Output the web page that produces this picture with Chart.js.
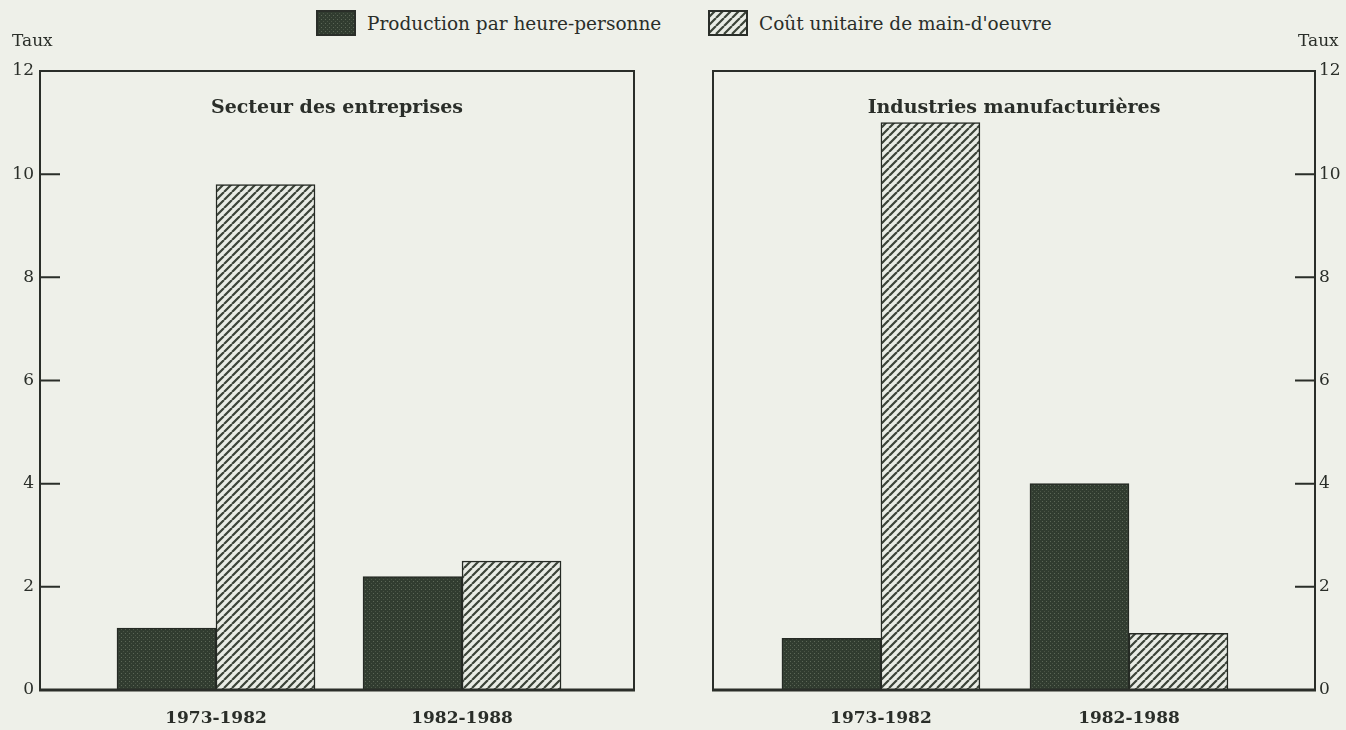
<!DOCTYPE html>
<html>
<head>
<meta charset="utf-8">
<script src="https://cdn.jsdelivr.net/npm/chart.js@4.4.0/dist/chart.umd.min.js"></script>
<style>
  html, body { margin: 0; padding: 0; width: 1346px; height: 730px; overflow: hidden; background: #eef0e9; font-family: "DejaVu Serif", serif; color: #2a2e29; }
  #c1 { position: absolute; left: 0; top: 0; }
  #c2 { position: absolute; left: 673px; top: 0; }
  .leg { position: absolute; top: 10px; height: 26px; display: flex; align-items: center; font-size: 18.5px; white-space: nowrap; }
  .sw { display: block; width: 40px; height: 26px; margin-right: 11px; }
</style>
</head>
<body>
<div class="leg" style="left:316px"><canvas class="sw" id="sw1" width="40" height="26"></canvas><span id="lt1"></span></div>
<div class="leg" style="left:708px"><canvas class="sw" id="sw2" width="40" height="26"></canvas><span id="lt2"></span></div>
<canvas id="c1" width="673" height="730"></canvas>
<canvas id="c2" width="673" height="730"></canvas>
<script>
// ---- Data ----
const categories = ['1973-1982', '1982-1988'];
const seriesNames = ['Production par heure-personne', "Coût unitaire de main-d'oeuvre"];
const panelTitles = ['Secteur des entreprises', 'Industries manufacturières'];
const entreprisesProduction = [1.2, 2.2];
const entreprisesCout = [9.8, 2.5];
const manufacturieresProduction = [1.0, 4.0];
const manufacturieresCout = [11.0, 1.1];
const yTicks = [0, 2, 4, 6, 8, 10, 12];
const axisTitle = 'Taux';

// ---- Styles ----
const FONT = '"DejaVu Serif", serif';
const INK = '#2a2e29';

function dotPattern() {
  const c = document.createElement('canvas'); c.width = 4; c.height = 4;
  const g = c.getContext('2d');
  g.fillStyle = '#313c30'; g.fillRect(0, 0, 4, 4);
  g.fillStyle = '#5c6757'; g.fillRect(1, 1, 1, 1);
  g.fillStyle = '#4a5446'; g.fillRect(3, 3, 1, 1);
  return g.createPattern(c, 'repeat');
}
function hatchPattern() {
  const s = 8;
  const c = document.createElement('canvas'); c.width = s; c.height = s;
  const g = c.getContext('2d');
  g.fillStyle = '#e9ece5'; g.fillRect(0, 0, s, s);
  g.strokeStyle = '#3b4338'; g.lineWidth = 2.2;
  g.beginPath();
  for (let k = -1; k <= 1; k++) { g.moveTo(k * s, s); g.lineTo(k * s + s, 0); }
  g.stroke();
  return g.createPattern(c, 'repeat');
}
const fills = [dotPattern(), hatchPattern()];

// legend (HTML)
['sw1', 'sw2'].forEach((id, i) => {
  const cv = document.getElementById(id), g = cv.getContext('2d');
  g.fillStyle = fills[i]; g.fillRect(0, 0, 40, 26);
  g.strokeStyle = INK; g.lineWidth = 2; g.strokeRect(1, 1, 38, 24);
});
document.getElementById('lt1').textContent = seriesNames[0];
document.getElementById('lt2').textContent = seriesNames[1];

const panelDecor = {
  id: 'panelDecor',
  afterDraw(chart, args, opts) {
    const { ctx, chartArea: a } = chart;
    const ys = chart.scales.y;
    ctx.save();
    ctx.strokeStyle = INK;
    ctx.lineWidth = 2;
    ctx.strokeRect(a.left, a.top, a.right - a.left, a.bottom - a.top);
    ctx.lineWidth = 3;
    ctx.beginPath(); ctx.moveTo(a.left - 1, a.bottom); ctx.lineTo(a.right + 1, a.bottom); ctx.stroke();
    ctx.lineWidth = 2;
    ctx.beginPath();
    yTicks.slice(1, -1).forEach(v => {
      const y = ys.getPixelForValue(v);
      if (opts.side === 'left') { ctx.moveTo(a.left, y); ctx.lineTo(a.left + 20, y); }
      else { ctx.moveTo(a.right - 20, y); ctx.lineTo(a.right, y); }
    });
    ctx.stroke();
    ctx.fillStyle = INK;
    ctx.font = 'bold 19px ' + FONT;
    ctx.textAlign = 'center'; ctx.textBaseline = 'middle';
    ctx.fillText(opts.title, (a.left + a.right) / 2, a.top + 37);
    ctx.font = '17px ' + FONT;
    ctx.textAlign = 'left';
    if (opts.side === 'left') { ctx.fillText(axisTitle, 12, 42); }
    else { ctx.fillText(axisTitle, a.right - 17, 42); }
    ctx.restore();
  }
};

function makeChart(id, title, prod, cout, side, xMin, xMax, pad) {
  return new Chart(document.getElementById(id), {
    type: 'bar',
    data: {
      datasets: [
        { label: seriesNames[0], data: prod.map((v, i) => ({ x: i, y: v })), backgroundColor: fills[0], borderColor: '#252a24', borderWidth: 1.5 },
        { label: seriesNames[1], data: cout.map((v, i) => ({ x: i, y: v })), backgroundColor: fills[1], borderColor: '#252a24', borderWidth: 1.5 }
      ]
    },
    options: {
      responsive: false,
      animation: false,
      devicePixelRatio: 1,
      layout: { padding: pad },
      datasets: { bar: { barThickness: 99, grouped: true } },
      plugins: { legend: { display: false }, tooltip: { enabled: false }, panelDecor: { side, title } },
      scales: {
        x: {
          type: 'linear', min: xMin, max: xMax, bounds: 'data', offset: false,
          afterBuildTicks: s => { s.ticks = categories.map((c, i) => ({ value: i })); },
          ticks: { callback: v => categories[v], font: { family: FONT, size: 17, weight: 'bold' }, color: INK, padding: 18, maxRotation: 0, autoSkip: false },
          grid: { display: false, drawTicks: false },
          border: { display: false },
          afterFit: s => { s.height = 40; }
        },
        y: {
          position: side, min: 0, max: 12,
          afterBuildTicks: s => { s.ticks = yTicks.map(v => ({ value: v })); },
          ticks: { font: { family: FONT, size: 17 }, color: INK, padding: side === 'left' ? 6 : 4 },
          grid: { display: false, drawTicks: false },
          border: { display: false },
          afterFit: s => { s.width = side === 'left' ? 40 : 31; }
        }
      }
    },
    plugins: [panelDecor]
  });
}

makeChart('c1', panelTitles[0], entreprisesProduction, entreprisesCout, 'left', -0.7154, 1.699, { top: 71, right: 39, left: 0, bottom: 0 });
makeChart('c2', panelTitles[1], manufacturieresProduction, manufacturieresCout, 'right', -0.677, 1.75, { top: 71, left: 40, right: 0, bottom: 0 });
</script>
</body>
</html>
